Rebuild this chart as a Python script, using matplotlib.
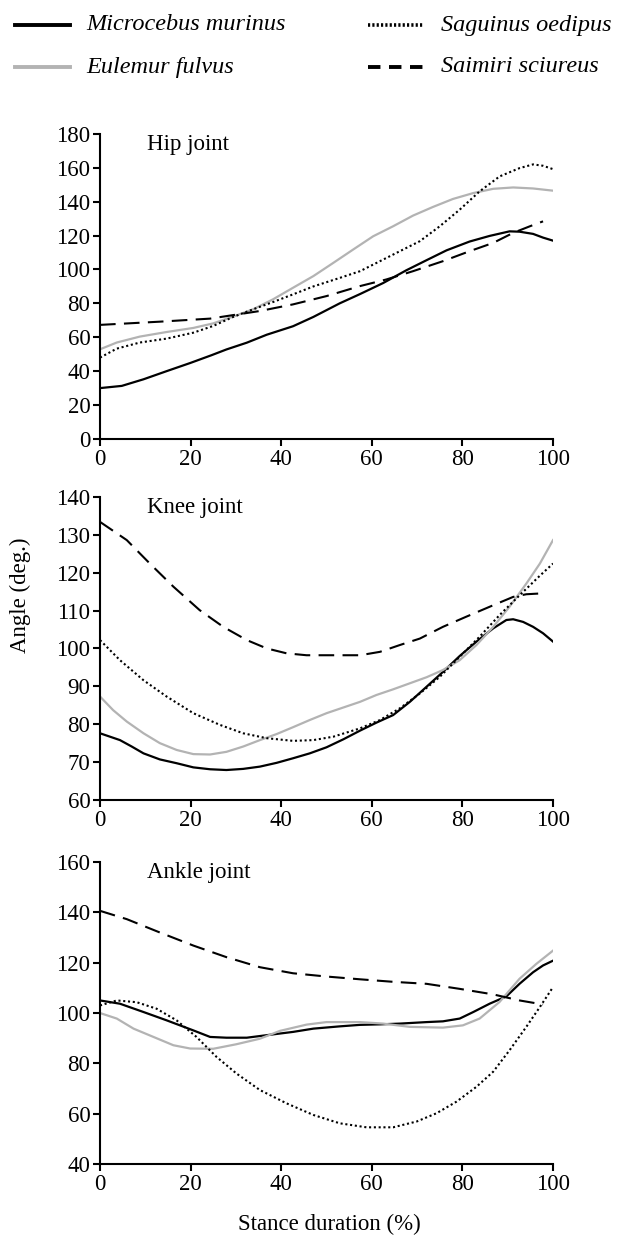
import matplotlib
matplotlib.use("Agg")
import matplotlib.pyplot as plt
from matplotlib.lines import Line2D

plt.rcParams['font.family'] = ['Liberation Serif', 'DejaVu Serif']

# ---- data (stance duration %, angle in degrees) ----
species = ["Microcebus murinus", "Eulemur fulvus", "Saguinus oedipus", "Saimiri sciureus"]

# Hip joint
hip_mm_x = [0, 4.8, 9.6, 14.7, 19.9, 24.6, 27.9, 32.4, 36.8, 42.6, 47.1, 52.9, 57.4, 62.5,
            67.6, 72.1, 76.5, 81.6, 86, 90.4, 92.6, 95.6, 97.8, 100]
hip_mm_y = [30, 31.3, 35.2, 40, 44.8, 49.4, 52.8, 56.8, 61.5, 66.5, 72, 80, 85.5, 92,
            99.5, 105.5, 111.3, 116.5, 119.8, 122.5, 122.3, 121, 118.8, 117]
hip_ef_x = [0, 3.7, 8.8, 14.7, 20.6, 25, 29.4, 33.8, 38.2, 42.6, 47.1, 51.5, 55.9, 60.3,
            64.7, 69.1, 73.5, 77.9, 82.4, 86.8, 91.2, 95.6, 100]
hip_ef_y = [52.9, 56.9, 60.4, 63.1, 65.5, 68.2, 72.2, 76.5, 82.4, 89.2, 96.1, 103.9, 111.8, 119.6,
            125.5, 131.8, 136.9, 141.6, 145.1, 147.6, 148.4, 147.8, 146.5]
hip_so_x = [0, 3.7, 8.8, 14.7, 20.6, 25, 29.4, 33.8, 38.2, 42.6, 47.1, 52.9, 57.4, 61.8,
            66.2, 70.6, 75, 79.4, 83.8, 88.2, 92.6, 95.6, 97.8, 100]
hip_so_y = [48, 53.3, 56.9, 59.2, 62.7, 66.7, 72, 76.5, 80.8, 85.3, 90, 95, 99, 104.9,
            110.8, 116.7, 125.5, 135.3, 146.1, 154.9, 159.8, 162, 161.2, 159.2]
hip_ss_x = [0, 13.2, 24.3, 35.3, 42.6, 50, 57.4, 63.2, 69.1, 75.7, 81.6, 86.8, 91.2, 94.9, 97.8]
hip_ss_y = [67.3, 69.2, 71, 75.5, 79.4, 84.3, 90.2, 94.1, 99, 104.9, 110.8, 115.7, 121.6, 125.5, 128.4]

# Knee joint
knee_mm_x = [0, 2.2, 4.4, 7, 9.6, 13.2, 16.9, 20.6, 24.3, 27.9, 31.6, 35.3, 39, 42.6, 46.3, 50,
             53.7, 57.4, 61, 64.7, 68.4, 72.1, 75.7, 79.4, 83.1, 86.8, 89.7, 91.2, 93.4, 95.6, 97.8, 100]
knee_mm_y = [77.6, 76.7, 75.8, 74.1, 72.3, 70.7, 69.7, 68.6, 68.1, 67.9, 68.2, 68.8, 69.8, 71, 72.3, 73.9,
             76, 78.3, 80.4, 82.4, 85.9, 89.9, 93.8, 98, 101.8, 105.3, 107.5, 107.7, 107, 105.7, 104, 101.8]
knee_ef_x = [0, 2.9, 5.9, 9.6, 13.2, 16.9, 20.6, 24.3, 27.9, 31.6, 35.3, 39, 42.6, 46.3, 50,
             53.7, 57.4, 61, 64.7, 68.4, 72.1, 75.7, 79.4, 83.1, 86.8, 90.4, 94.1, 97.1, 100]
knee_ef_y = [87.3, 83.7, 80.7, 77.6, 75, 73.2, 72.1, 72, 72.7, 74.1, 75.8, 77.4, 79.2, 81.1, 82.9,
             84.4, 85.9, 87.7, 89.2, 90.8, 92.4, 94.3, 96.9, 100.9, 105.7, 111, 117.1, 122.4, 128.6]
knee_so_x = [0, 4.4, 9.6, 14.7, 20.6, 26.5, 31.6, 36.8, 42.6, 47.1, 51.5, 57.4, 61.8, 66.2,
             70.6, 75, 79.4, 83.8, 88.2, 92.6, 97.1, 100]
knee_so_y = [102.2, 96.9, 91.6, 87.3, 82.9, 79.8, 77.6, 76.3, 75.6, 75.8, 76.7, 78.9, 81.1, 84.2,
             88.1, 92.5, 97.8, 103.1, 108.8, 114, 119.2, 122.4]
knee_ss_x = [0, 5.9, 11, 16.2, 22, 27.2, 32.4, 36.8, 41.2, 45.6, 50, 57.4, 61.8, 66.2, 70.6,
             75.7, 80.9, 86.8, 91.2, 94.1, 97.1]
knee_ss_y = [133.4, 128.6, 122.4, 116.3, 110.1, 105.7, 102.2, 100, 98.7, 98.2, 98.2, 98.2, 99.1, 100.9, 102.6,
             105.7, 108.4, 111.4, 113.6, 114.3, 114.5]

# Ankle joint
ankle_mm_x = [0, 4.4, 9.6, 14.7, 20.6, 24.3, 27.9, 32.4, 36.8, 42.6, 47.1, 52.9, 57.4, 61.8,
              66.2, 72.1, 75.7, 79.4, 82.4, 86, 89.7, 92.6, 95.6, 97.8, 100]
ankle_mm_y = [105, 103.7, 100.4, 97.1, 93.1, 90.5, 90.2, 90.2, 91.2, 92.5, 93.8, 94.7, 95.3, 95.5,
              95.8, 96.4, 96.7, 97.8, 100.4, 103.7, 106.6, 111.6, 116.2, 118.9, 120.8]
ankle_ef_x = [0, 3.7, 7.4, 11.8, 16.2, 19.9, 25, 30.1, 35.3, 39.7, 45.6, 50, 57.4, 62.5,
              68.4, 75.7, 80.1, 83.8, 88.2, 92.6, 96.3, 100]
ankle_ef_y = [100, 97.8, 93.8, 90.5, 87.2, 85.9, 85.8, 87.6, 89.8, 92.9, 95.4, 96.4, 96.4, 95.8,
              94.5, 94.2, 95.1, 97.8, 104.4, 113.6, 119.5, 124.8]
ankle_so_x = [0, 3.7, 8.1, 12.5, 16.9, 21.3, 25.7, 30.1, 35.3, 41.2, 47.1, 52.9, 58.8, 64.7,
              69.9, 74.3, 78.7, 83.1, 86.8, 90.4, 94.1, 97.1, 100]
ankle_so_y = [103, 105, 104.3, 101.7, 97.1, 90.5, 82.6, 76, 69.4, 64.1, 59.5, 56.2, 54.6, 54.6,
              56.9, 60.2, 64.8, 70.7, 76.7, 85.2, 94.5, 102.4, 110.3]
ankle_ss_x = [0, 5.9, 13.2, 20.6, 27.9, 35.3, 42.6, 50, 57.4, 64.7, 72.1, 79.4, 86.8, 92.6, 97.8]
ankle_ss_y = [140.6, 137.3, 132, 126.8, 122.2, 118.2, 115.8, 114.5, 113.4, 112.4, 111.6, 109.6, 107.4, 105, 103.4]

panels = [
    ("Hip joint", (0, 180), range(0, 181, 20),
     [(hip_mm_x, hip_mm_y), (hip_ef_x, hip_ef_y), (hip_so_x, hip_so_y), (hip_ss_x, hip_ss_y)]),
    ("Knee joint", (60, 140), range(60, 141, 10),
     [(knee_mm_x, knee_mm_y), (knee_ef_x, knee_ef_y), (knee_so_x, knee_so_y), (knee_ss_x, knee_ss_y)]),
    ("Ankle joint", (40, 160), range(40, 161, 20),
     [(ankle_mm_x, ankle_mm_y), (ankle_ef_x, ankle_ef_y), (ankle_so_x, ankle_so_y), (ankle_ss_x, ankle_ss_y)]),
]
x_ticks = [0, 20, 40, 60, 80, 100]

styles = [
    dict(color="black", lw=1.6, ls="-"),
    dict(color="#b3b3b3", lw=1.6, ls="-"),
    dict(color="black", lw=1.5, ls=(0, (1, 1.3))),
    dict(color="black", lw=1.5, ls=(0, (7.5, 4))),
]
legend_ls = ["-", "-", (0, (0.6, 0.6)), (0, (3.2, 2.2))]
legend_lw = [2.8, 2.8, 2.6, 2.8]

FS = 16.5

fig = plt.figure(figsize=(6.22, 12.41), dpi=100)

axes_rects = [
    [0.1608, 0.6463, 0.7283, 0.2458],
    [0.1608, 0.3554, 0.7283, 0.2442],
    [0.1608, 0.0620, 0.7283, 0.2434],
]

for rect, (title, ylim, yticks, series) in zip(axes_rects, panels):
    ax = fig.add_axes(rect)
    for (xs, ys), st in zip(series, styles):
        ax.plot(xs, ys, **st)
    ax.set_xlim(0, 100)
    ax.set_ylim(*ylim)
    ax.set_xticks(x_ticks)
    ax.set_yticks(list(yticks))
    for s in ("top", "right"):
        ax.spines[s].set_visible(False)
    for s in ("left", "bottom"):
        ax.spines[s].set_linewidth(1.5)
    ax.tick_params(direction="out", length=5, width=1.5, labelsize=FS, pad=2)
    ax.text(0.104, 0.965, title, transform=ax.transAxes, fontsize=FS,
            ha="left", va="center")

fig.text(0.033, 0.52, "Angle (deg.)", rotation=90, fontsize=FS, ha="center", va="center")
fig.text(0.53, 0.013, "Stance duration (%)", fontsize=FS, ha="center", va="center")

# legend drawn at top of figure
leg_pos = [(15, 70, 86, 25), (15, 70, 86, 67), (368, 423, 441, 25), (368, 423, 441, 67)]
W, H = 622, 1241
for (x0, x1, tx, y), st, ls, lw, name in zip(leg_pos, styles, legend_ls, legend_lw, species):
    fig.add_artist(Line2D([x0 / W, x1 / W], [1 - y / H, 1 - y / H],
                          color=st["color"], lw=lw, ls=ls))
    fig.text(tx / W, 1 - y / H, name, fontsize=17.5, style="italic", ha="left", va="center")

fig.savefig("out.png", dpi=100)
